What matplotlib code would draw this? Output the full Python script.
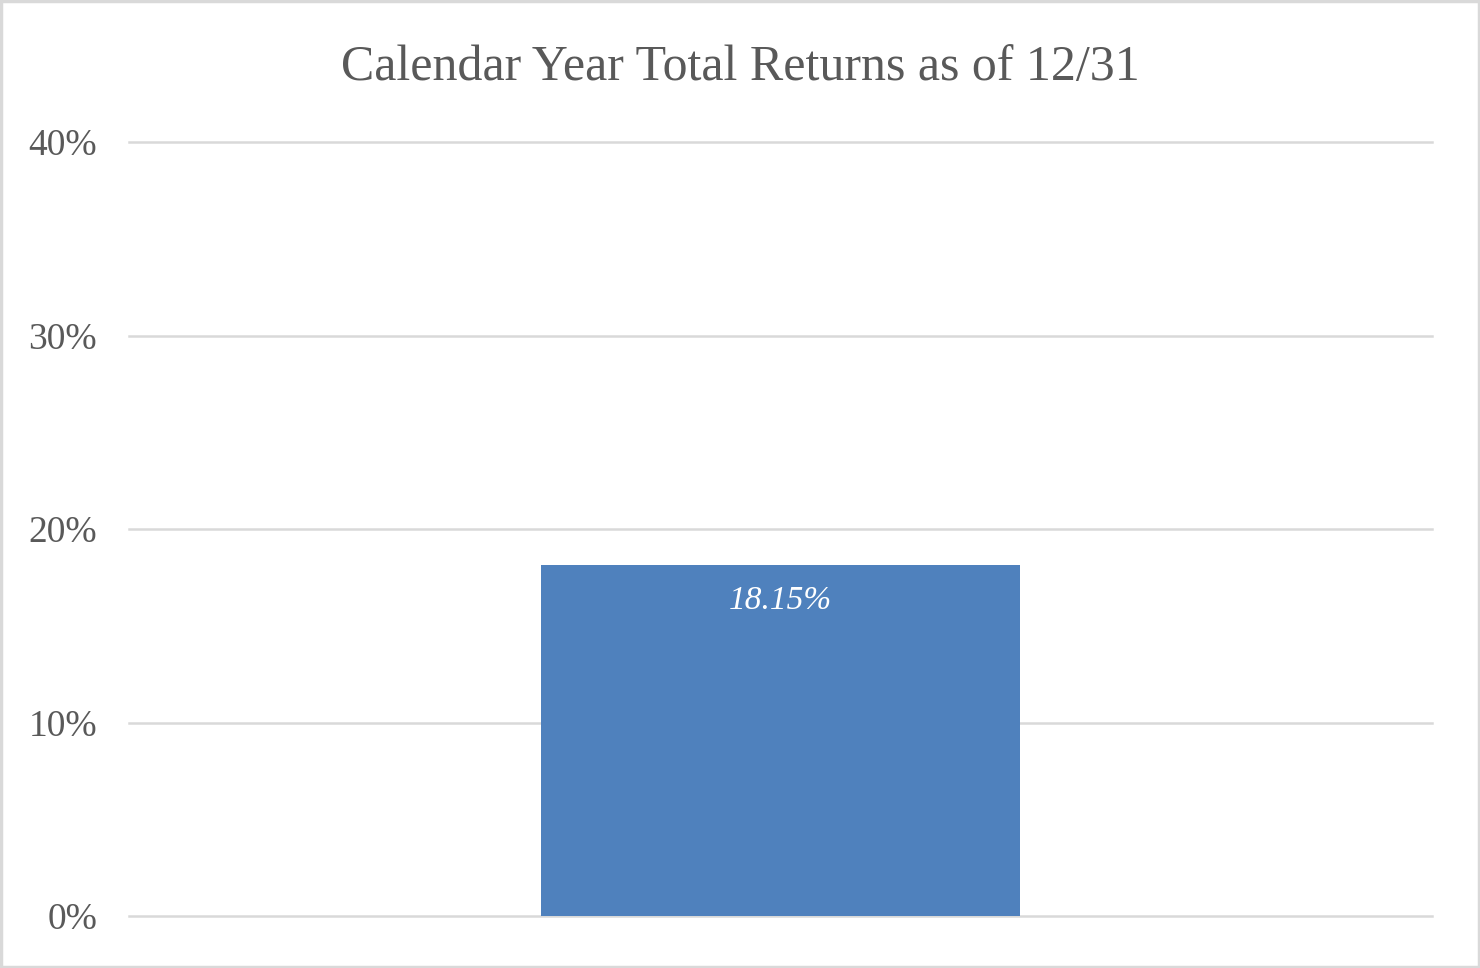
import matplotlib.pyplot as plt
from matplotlib.patches import Rectangle

# data
categories = ['']
returns = [18.15]
yticks = [0, 10, 20, 30, 40]

plt.rcParams['font.family'] = ['Liberation Serif', 'DejaVu Serif']

fig = plt.figure(figsize=(14.8, 9.68), dpi=100)
ax = fig.add_axes([129/1480, 52/968, (1432-129)/1480, (916-142)/968])

bars = ax.bar(categories, returns, width=0.368, color='#4F81BD', zorder=3)
ax.set_xlim(-0.5, 0.5)
ax.set_ylim(0, 40)
ax.set_yticks(yticks)
ax.set_yticklabels([f'{t}%' for t in yticks])
ax.tick_params(axis='y', length=0, pad=23, labelsize=27, labelcolor='#595959')
ax.set_xticks([])
ax.grid(axis='y', color='#d9d9d9', linewidth=1.8, zorder=0)
for gl in ax.get_ygridlines():
    gl.set_clip_on(False)
ax.set_axisbelow(True)
for s in ax.spines.values():
    s.set_visible(False)

for b, v in zip(bars, returns):
    ax.annotate(f'{v:.2f}%', (b.get_x() + b.get_width()/2, v),
                xytext=(0, -15), textcoords='offset points',
                ha='center', va='top', color='white', fontsize=24, style='italic')

fig.text(0.5, 1 - 68/968, 'Calendar Year Total Returns as of 12/31',
         ha='center', va='center', fontsize=36, color='#595959')

# chart border
fig.patches.append(Rectangle((0.001, 0.001), 0.998, 0.998, transform=fig.transFigure,
                             fill=False, edgecolor='#d9d9d9', linewidth=2.5))

fig.savefig('out.png', dpi=100)
